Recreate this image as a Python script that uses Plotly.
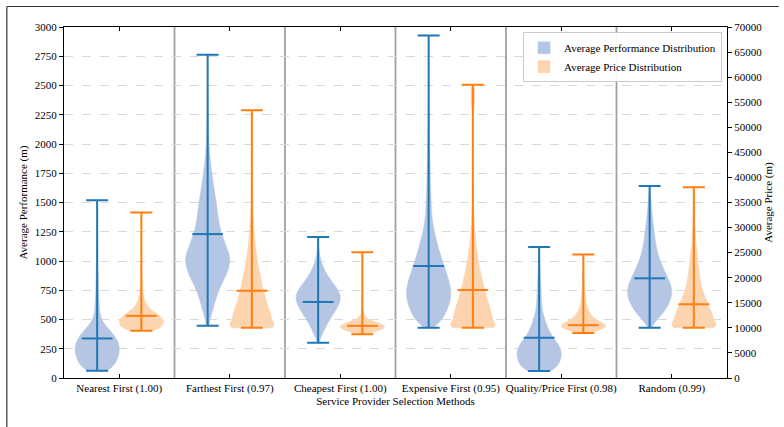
import numpy as np
import plotly.graph_objects as go

categories = ["Nearest First (1.00)", "Farthest First (0.97)", "Cheapest First (1.00)",
              "Expensive First (0.95)", "Quality/Price First (0.98)", "Random (0.99)"]

# Whisker statistics
perf_min = [62, 446, 301, 429, 60, 430]
perf_med = [338, 1230, 650, 957, 344, 852]
perf_max = [1520, 2762, 1205, 2927, 1120, 1640]
price_min = [9400, 10000, 8750, 10000, 8950, 10000]
price_med = [12400, 17400, 10400, 17560, 10540, 14710]
price_max = [33000, 53400, 25100, 58500, 24650, 38040]

# Distribution shapes: value levels and relative frequencies
perf_nearest_lv = list(range(75, 1276, 50))
perf_nearest_ct = [56, 70, 80, 86, 86, 78, 62, 42, 22, 12, 9, 8, 7, 6, 5, 5, 4, 4, 3, 3, 2, 2, 1, 1, 1]
perf_farthest_lv = list(range(475, 2476, 50))
perf_farthest_ct = [8, 12, 19, 25, 32, 39, 48, 60, 71, 80, 86, 88, 81, 72, 64, 56, 49, 44, 41, 38, 35, 32,
                    28, 25, 21, 18, 15, 12, 10, 8, 6, 5, 4, 4, 3, 3, 2, 2, 2, 1, 1]
perf_cheapest_lv = list(range(325, 1176, 50))
perf_cheapest_ct = [6, 16, 26, 38, 52, 66, 80, 88, 84, 70, 52, 36, 24, 14, 8, 4, 2, 1]
perf_expensive_lv = list(range(450, 2451, 50))
perf_expensive_ct = [30, 54, 66, 76, 84, 88, 87, 84, 77, 70, 62, 54, 47, 40, 34, 28, 23, 18, 15, 12, 11, 10,
                     9, 8, 7, 7, 6, 6, 5, 5, 4, 4, 3, 3, 3, 2, 2, 2, 1, 1, 1]
perf_quality_lv = list(range(75, 1076, 50))
perf_quality_ct = [70, 80, 88, 90, 82, 62, 46, 35, 26, 19, 13, 10, 9, 8, 7, 6, 5, 4, 3, 2, 1]
perf_random_lv = list(range(450, 1601, 50))
perf_random_ct = [10, 30, 52, 68, 80, 88, 90, 84, 74, 62, 52, 42, 34, 29, 24, 21, 18, 16, 12, 10, 8, 6, 4, 2]

price_nearest_lv = list(range(9500, 25001, 500))
price_nearest_ct = [60, 80, 88, 92, 92, 84, 72, 58, 44, 32, 24, 18, 14, 11, 9, 7, 6, 5, 5, 4, 4, 3, 3, 3,
                    2, 2, 2, 2, 1, 1, 1, 1]
price_farthest_lv = list(range(10000, 40001, 1000))
price_farthest_ct = [130, 88, 86, 82, 74, 66, 60, 54, 48, 44, 40, 35, 30, 26, 23, 20, 17, 15, 13, 11, 9, 8,
                     6, 5, 4, 3, 3, 2, 2, 1, 1]
price_cheapest_lv = list(range(8750, 15251, 500))
price_cheapest_ct = [16, 48, 76, 88, 72, 44, 20, 10, 6, 4, 3, 2, 1, 1]
price_expensive_lv = list(range(10000, 40001, 1000)) + list(range(53000, 58001, 1000))
price_expensive_ct = [130, 88, 86, 82, 76, 70, 62, 56, 50, 44, 40, 34, 30, 26, 22, 19, 16, 14, 12, 10, 8, 7,
                      6, 5, 4, 3, 2, 2, 1, 1, 1, 3, 6, 8, 9, 9, 8]
price_quality_lv = list(range(9000, 24501, 500))
price_quality_ct = [24, 60, 80, 90, 70, 50, 40, 30, 24, 18, 14, 12, 10, 9, 8, 7, 6, 5, 5, 4, 4, 3, 3, 3,
                    2, 2, 2, 2, 1, 1, 1, 1]
price_random_lv = list(range(10000, 38001, 1000))
price_random_ct = [130, 90, 88, 80, 70, 62, 52, 42, 36, 31, 27, 24, 21, 19, 16, 14, 12, 10, 8, 7, 6, 5, 4,
                   3, 2, 2, 2, 1, 1]

perf_levels = [perf_nearest_lv, perf_farthest_lv, perf_cheapest_lv, perf_expensive_lv, perf_quality_lv,
               perf_random_lv]
perf_counts = [perf_nearest_ct, perf_farthest_ct, perf_cheapest_ct, perf_expensive_ct, perf_quality_ct,
               perf_random_ct]
price_levels = [price_nearest_lv, price_farthest_lv, price_cheapest_lv, price_expensive_lv, price_quality_lv,
                price_random_lv]
price_counts = [price_nearest_ct, price_farthest_ct, price_cheapest_ct, price_expensive_ct, price_quality_ct,
                price_random_ct]

perf_ticks = list(range(0, 3001, 250))
price_ticks = list(range(0, 70001, 5000))

# KDE smoothing (style)
perf_bw = [40, 40, 40, 40, 40, 40]
price_bw = [400, 800, 400, 800, 400, 800]

FONT = "Liberation Serif"
BLUE_LINE = "#1f77b4"
ORANGE_LINE = "#ff7f0e"
BLUE_FILL = "rgb(180,198,228)"
ORANGE_FILL = "rgb(253,212,176)"
OFFSET = 0.2
VW = 0.4
TF = dict(family=FONT, size=11, color="black")
TTF = dict(family=FONT, size=11, color="black")

fig = go.Figure()
idx = np.arange(len(categories))

for i in range(len(categories)):
    samples = np.repeat(perf_levels[i], perf_counts[i])
    fig.add_trace(go.Violin(
        y=samples, x0=i - OFFSET, width=VW, name="Average Performance Distribution",
        showlegend=(i == 0), spanmode="manual", span=[perf_min[i], perf_max[i]],
        bandwidth=perf_bw[i], scalemode="width",
        fillcolor=BLUE_FILL, line=dict(color=BLUE_FILL, width=0.5), points=False,
        box_visible=False, meanline_visible=False, hoverinfo="skip", yaxis="y"))
for i in range(len(categories)):
    samples = np.repeat(price_levels[i], price_counts[i])
    fig.add_trace(go.Violin(
        y=samples, x0=i + OFFSET, width=VW, name="Average Price Distribution",
        showlegend=(i == 0), spanmode="manual", span=[price_min[i], price_max[i]],
        bandwidth=price_bw[i], scalemode="width",
        fillcolor=ORANGE_FILL, line=dict(color=ORANGE_FILL, width=0.5), points=False,
        box_visible=False, meanline_visible=False, hoverinfo="skip", yaxis="y2"))


def whiskers(mn, med, mx, xs, color, yaxis):
    return go.Scatter(
        x=xs, y=med, mode="markers", yaxis=yaxis, showlegend=False, hoverinfo="skip",
        marker=dict(symbol="line-ew", size=22, line=dict(color=color, width=2), color=color),
        error_y=dict(type="data", symmetric=False,
                     array=[a - m for a, m in zip(mx, med)],
                     arrayminus=[m - b for m, b in zip(med, mn)],
                     color=color, thickness=2, width=11))


fig.add_trace(whiskers(perf_min, perf_med, perf_max, list(idx - OFFSET), BLUE_LINE, "y"))
fig.add_trace(whiskers(price_min, price_med, price_max, list(idx + OFFSET), ORANGE_LINE, "y2"))

shapes = []
for k in range(len(categories) - 1):
    shapes.append(dict(type="line", xref="x", yref="paper", x0=k + 0.5, x1=k + 0.5, y0=0, y1=1,
                       line=dict(color="#a0a0a0", width=1.8), layer="below"))
# outer figure frame (left and top edges visible in the picture)
W, H = 784, 427
L, R, T, B = 64, 53, 27, 49
pw, ph = W - L - R, H - T - B
fx0 = (6.5 - L) / pw
fx1 = (W - 1 - L) / pw
fy_top = (H - B - 6.5) / ph
fy_bot = (H - B - H) / ph
shapes.append(dict(type="line", xref="paper", yref="paper", x0=fx0, x1=fx1, y0=fy_top, y1=fy_top,
                   line=dict(color="#333333", width=1.2)))
shapes.append(dict(type="line", xref="paper", yref="paper", x0=fx0, x1=fx0, y0=fy_top, y1=fy_bot,
                   line=dict(color="#333333", width=1.2)))

fig.update_layout(
    width=W, height=H, margin=dict(l=L, r=R, t=T, b=B),
    paper_bgcolor="white", plot_bgcolor="white",
    font=TF,
    violinmode="overlay", shapes=shapes,
    xaxis=dict(range=[-0.5, len(categories) - 0.5], tickvals=list(idx), ticktext=categories,
               showline=True, linecolor="black", linewidth=1.2, mirror="ticks",
               ticks="inside", ticklen=4, tickcolor="black", showgrid=False, zeroline=False,
               title=dict(text="Service Provider Selection Methods", standoff=3, font=TTF),
               tickfont=TF),
    yaxis=dict(range=[0, 3000], tickvals=perf_ticks, tickformat="d", showline=True, linecolor="black",
               linewidth=1.2, ticks="outside", ticklen=4, tickcolor="black", showgrid=True,
               gridcolor="#d9d9d9", griddash="dash", gridwidth=1, zeroline=False,
               title=dict(text="Average Performance (m)", standoff=4, font=TTF), tickfont=TF),
    yaxis2=dict(range=[0, 70000], tickvals=price_ticks, tickformat="d", overlaying="y", side="right",
                showline=True, linecolor="black", linewidth=1.2, ticks="outside", ticklen=4,
                tickcolor="black", showgrid=False, zeroline=False, tickfont=TF,
                title=dict(text="Average Price (m)", standoff=2, font=TTF)),
    legend=dict(x=0.9925, y=0.985, xanchor="right", yanchor="top", bgcolor="rgba(255,255,255,0.9)",
                bordercolor="#cccccc", borderwidth=1, font=TF, itemwidth=30,
                tracegroupgap=0),
)

fig.write_html("out.html", config={"displayModeBar": False},
               post_script="document.body.style.margin='0';")
